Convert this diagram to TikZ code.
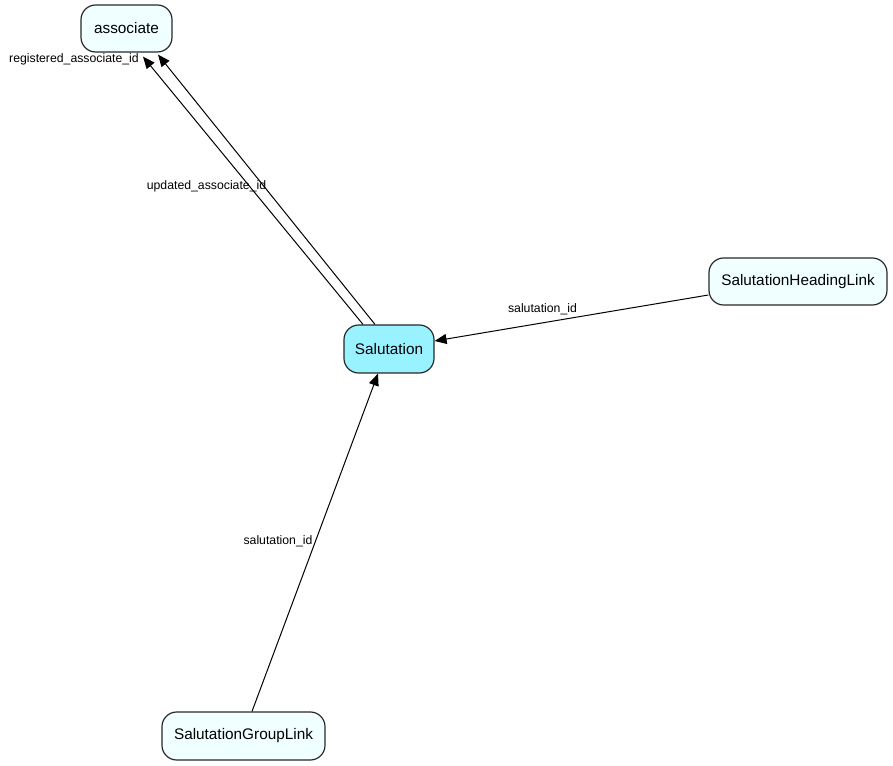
\documentclass[tikz,border=0pt]{standalone}
\usepackage{fontspec}
\setmainfont{Liberation Sans}
\usetikzlibrary{arrows.meta,calc}
\definecolor{pale}{RGB}{240,255,255}
\definecolor{hot}{RGB}{153,242,255}
\definecolor{edge}{RGB}{40,40,40}
\tikzset{
  tbl/.style={draw=edge,line width=0.9pt,rounded corners=11pt,inner sep=0pt,
    font=\fontsize{11.5}{13}\selectfont,fill=pale},
  lbl/.style={inner sep=0pt,font=\fontsize{9.2}{11}\selectfont},
  fk/.style={draw=black,line width=0.75pt,-{Triangle[length=9pt,width=7.5pt]}}
}
\begin{document}
\begin{tikzpicture}[x=0.75pt,y=-0.75pt]
\useasboundingbox (0,0) rectangle (893,766);
\node[tbl,minimum width=68.25pt,minimum height=35.25pt] (assoc) at (126.5,28.5) {associate};
\node[tbl,fill=hot,minimum width=67.5pt,minimum height=36pt] (sal) at (389,349) {Salutation};
\node[tbl,minimum width=133.5pt,minimum height=35.25pt] (head) at (798,281.5) {SalutationHeadingLink};
\node[tbl,minimum width=122.25pt,minimum height=36pt] (grp) at (243.5,736) {SalutationGroupLink};
\draw[fk] ($(sal.north)+(-26,0)$) -- ($(assoc.south)+(16.5,4)$);
\draw[fk] ($(sal.north)+(-14,0)$) -- ($(assoc.south)+(31.5,2)$);
\draw[fk] ($(head.west)+(0,13.5)$) -- ($(sal.east)+(0,-8)$);
\draw[fk] ($(grp.north)+(8.5,0)$) -- ($(sal.south)+(-11,0)$);
\node[lbl,anchor=east] (l1) at (139,59) {registered\_associate\_id};
\node[lbl] (l2) at (206.5,186) {updated\_associate\_id};
\node[lbl] (l3) at (542.5,309) {salutation\_id};
\node[lbl] (l4) at (278,541) {salutation\_id};
\end{tikzpicture}
\end{document}
